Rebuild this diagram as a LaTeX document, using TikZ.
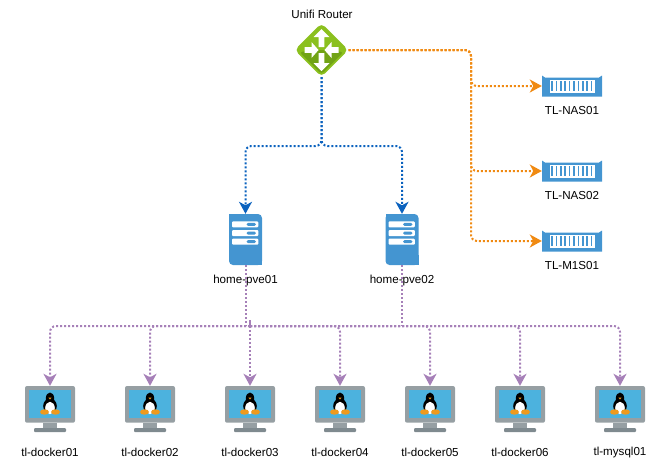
\documentclass[tikz,border=0pt]{standalone}
\usepackage{fontspec}
\setmainfont{Liberation Sans}
\usetikzlibrary{arrows.meta,shapes.geometric}
\definecolor{routergreen}{HTML}{8BC01E}
\definecolor{routerdark}{HTML}{71A315}
\definecolor{iconblue}{HTML}{4495D1}
\definecolor{linkblue}{HTML}{0B62BE}
\definecolor{linkorange}{HTML}{F08A12}
\definecolor{linkpurple}{HTML}{A680B8}
\definecolor{bezelgrey}{HTML}{969FA3}
\definecolor{basegrey}{HTML}{7F8A8F}
\definecolor{screenblue}{HTML}{4CB2DE}
\definecolor{tuxorange}{HTML}{EE9A1E}
\tikzset{
  stub/.style={line width=2pt,dash pattern=on 2pt off 2pt,rounded corners=6pt},
  link/.style={stub,-{Stealth[length=12pt,width=13pt,inset=3.5pt]}},
  bluelink/.style={link,draw=linkblue},
  orangelink/.style={link,draw=linkorange},
  purplelink/.style={link,draw=linkpurple},
  iconlabel/.style={font=\fontsize{11.6}{14}\selectfont,inner sep=0pt},
  routerbox/.style={shape=diamond,aspect=1,fill=routergreen,minimum width=54pt,minimum height=54pt,inner sep=0pt,rounded corners=5pt},
  serverbox/.style={minimum width=33pt,minimum height=51pt,inner sep=0pt},
  nasbox/.style={minimum width=60pt,minimum height=21pt,inner sep=0pt},
  dockerbox/.style={minimum width=50pt,minimum height=46pt,inner sep=0pt},
  routerface/.pic={
    \fill[routerdark,rounded corners=3pt] (0,0) -- (22,2) -- (0,24) -- (-22,2) -- cycle;
    \fill[white] (-2.8,-3) -- (-2.8,-13) -- (-8,-13) -- (0,-21) -- (8,-13) -- (2.8,-13) -- (2.8,-3) -- cycle;
    \fill[white] (-2.8,3) -- (-2.8,13) -- (-8,13) -- (0,21) -- (8,13) -- (2.8,13) -- (2.8,3) -- cycle;
    \fill[white] (-17,-2.8) -- (-10,-2.8) -- (-10,-8) -- (-3,0) -- (-10,8) -- (-10,2.8) -- (-17,2.8) -- cycle;
    \fill[white] (17,-2.8) -- (10,-2.8) -- (10,-8) -- (3,0) -- (10,8) -- (10,2.8) -- (17,2.8) -- cycle;
  },
  serverface/.pic={
    \fill[iconblue,rounded corners=4pt] (-16.5,-25.5) -- (16.5,-25.5) -- (16.5,25.5) -- (-16.5,25.5) -- cycle;
    \fill[iconblue] (-16.5,-25.5) rectangle (-8,-15);
    \fill[iconblue] (8,15) rectangle (16.5,25.5);
    \foreach \rowy in {-18.2,-9.5,-0.8}{
      \fill[white,rounded corners=1pt] (-13.5,\rowy) rectangle (12.8,\rowy+6);
      \fill[iconblue,rounded corners=1.5pt] (1,\rowy+1.5) rectangle (10.5,\rowy+4.5);
    }
  },
  nasface/.pic={
    \fill[iconblue] (-30,-10.5) -- (-27,-8.5) -- (27,-8.5) -- (30,-10.5) -- (30,10.5) -- (-30,10.5) -- cycle;
    \fill[white] (-22.5,-6.5) rectangle (22.5,6.5);
    \foreach \barx in {-20,-15.6,...,20.1}{
      \fill[iconblue] (\barx-.8,-5) rectangle (\barx+.8,5);
    }
  },
  dockerface/.pic={
    \fill[bezelgrey,rounded corners=2pt] (-25,-23) rectangle (25,13.7);
    \fill[screenblue] (-21,-19) rectangle (21,9);
    \fill[bezelgrey] (-6.7,13.7) rectangle (6.7,19.5);
    \fill[basegrey,rounded corners=1pt] (-16,19) rectangle (16,23);
    \fill[black] (0,-10.5) ellipse (4.2 and 6);
    \fill[black] (0,-3) ellipse (6.8 and 7.5);
    \fill[white] (0,-1) ellipse (4.8 and 6.2);
    \fill[tuxorange] (-1.6,-11.5) -- (1.6,-11.5) -- (0,-9.5) -- cycle;
    \fill[tuxorange] (-5.5,3) ellipse (4.5 and 2.7);
    \fill[tuxorange] (5.5,3) ellipse (4.5 and 2.7);
  },
}
\begin{document}
\begin{tikzpicture}[x=1pt,y=-1pt]
\useasboundingbox (0,0) rectangle (670,467);
% router
\node[routerbox] (router) at (321.5,50) {};
\pic at (router) {routerface};
\node[iconlabel] (routerlabel) at (322,14) {Unifi Router};
% proxmox hosts
\foreach \hostname/\hostx in {pve01/245.5,pve02/402}{
  \node[serverbox] (\hostname) at (\hostx,239.5) {};
  \pic at (\hostname) {serverface};
  \node[iconlabel] (\hostname label) at (\hostx,280) {home-\hostname};
}
% storage
\foreach \nasname/\nasy in {NAS01/86,NAS02/171,M1S01/241}{
  \node[nasbox] (\nasname) at (572,\nasy) {};
  \pic at (\nasname) {nasface};
  \node[iconlabel] (\nasname label) at (572,\nasy+24.5) {TL-\nasname};
}
% guests
\foreach \guestname/\guestx in {docker01/50,docker02/150,docker03/250,docker04/340,docker05/430,docker06/520,mysql01/620}{
  \node[dockerbox] (\guestname) at (\guestx,409) {};
  \pic at (\guestname) {dockerface};
  \node[iconlabel] (\guestname label) at (\guestx,452) {tl-\guestname};
}
% bus levels
\coordinate (bluebus) at (321.5,146);
\coordinate (orangebus) at (471,50);
\coordinate (purplebus) at (250,326);
% links
\foreach \hostname in {pve01,pve02}{
  \draw[bluelink] (router.south) -- (bluebus) -| (\hostname.north);
  \draw[stub,draw=linkpurple] (\hostname.south) -- (\hostname.south |- purplebus);
}
\foreach \nasname in {NAS01,NAS02,M1S01}{
  \draw[orangelink] (router.east) -- (orangebus) |- (\nasname.west);
}
\foreach \guestname in {docker01,docker02,docker03,docker04,docker05,docker06,mysql01}{
  \draw[purplelink] (purplebus) -| (\guestname.north);
}
\end{tikzpicture}
\end{document}
